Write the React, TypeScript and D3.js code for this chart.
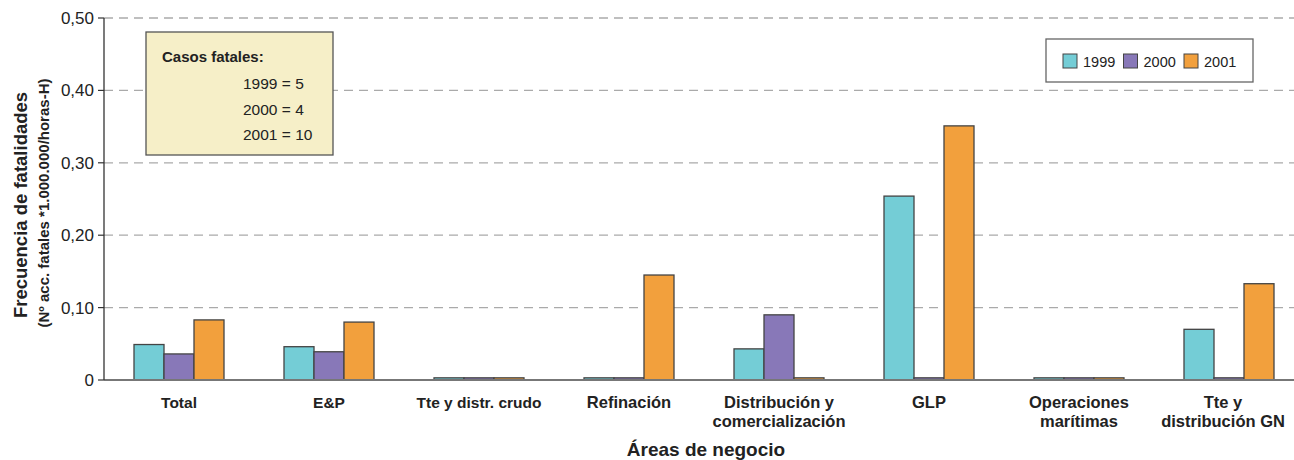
import * as d3 from 'd3';

const categories = [
  ['Total'],
  ['E&P'],
  ['Tte y distr. crudo'],
  ['Refinación'],
  ['Distribución y', 'comercialización'],
  ['GLP'],
  ['Operaciones', 'marítimas'],
  ['Tte y', 'distribución GN'],
];
const years = ['1999', '2000', '2001'];
const values1999 = [0.049, 0.046, 0.003, 0.003, 0.043, 0.254, 0.003, 0.07];
const values2000 = [0.036, 0.039, 0.003, 0.003, 0.09, 0.003, 0.003, 0.003];
const values2001 = [0.083, 0.08, 0.003, 0.145, 0.003, 0.351, 0.003, 0.133];
const yTicks = [0, 0.1, 0.2, 0.3, 0.4, 0.5];
const fatalCases = ['1999 = 5', '2000 = 4', '2001 = 10'];

const colors = ['#74cdd6', '#8878b8', '#f2a03d'];
const series = [values1999, values2000, values2001];

const W = 1294;
const H = 460;
const left = 104;
const right = 1294;
const top = 18;
const bottom = 380;

const sans = '"Liberation Sans", Arial, sans-serif';
const narrow = '"Liberation Sans Narrow", "Liberation Sans", Arial, sans-serif';

export default function App() {
  // the groups run a little past the visible right edge in the original
  const x = d3.scaleBand<number>()
    .domain(d3.range(categories.length))
    .range([left, right + 10])
    .paddingInner(0.4)
    .paddingOuter(0.2);
  const x1 = d3.scaleBand<number>()
    .domain(d3.range(years.length))
    .range([0, x.bandwidth()]);
  const y = d3.scaleLinear().domain([0, 0.5]).range([bottom, top]);

  const fmt = (d: number) => (d === 0 ? '0' : d3.format('.2f')(d).replace('.', ','));

  return (
    <svg width={W} height={H} style={{ position: 'absolute', left: 0, top: 0, background: '#fff' }}>
      {/* grid */}
      {yTicks.filter(t => t > 0).map(t => (
        <line key={t} x1={left} x2={right} y1={y(t)} y2={y(t)}
          stroke="#aaa" strokeWidth={1.3} strokeDasharray="9 6" />
      ))}
      {/* y ticks */}
      {yTicks.map(t => (
        <g key={'t' + t}>
          <line x1={left - 6} x2={left} y1={y(t)} y2={y(t)} stroke="#333" strokeWidth={1.2} />
          <text x={left - 10} y={y(t) + 6} textAnchor="end" fontFamily={sans} fontSize={17} fill="#222">
            {fmt(t)}
          </text>
        </g>
      ))}
      {/* bars */}
      {categories.map((_, i) => (
        <g key={'g' + i} transform={`translate(${x(i)},0)`}>
          {series.map((s, j) => (
            <rect key={j} x={x1(j)} y={y(s[i])} width={x1.bandwidth()} height={y(0) - y(s[i])}
              fill={colors[j]} stroke="#444" strokeWidth={1.3} />
          ))}
        </g>
      ))}
      {/* axes lines */}
      <line x1={left} x2={right} y1={bottom} y2={bottom} stroke="#777" strokeWidth={2} />
      <line x1={left} x2={left} y1={top} y2={bottom} stroke="#333" strokeWidth={1.3} />
      {/* x labels */}
      {categories.map((lines, i) => (
        <text key={'l' + i} x={(x(i) as number) + x.bandwidth() / 2} y={408} textAnchor="middle"
          fontFamily={i >= 3 ? narrow : sans} fontWeight="bold"
          fontSize={i >= 3 ? 16.5 : 15.5} fill="#222">
          {lines.map((l, k) => (
            <tspan key={k} x={(x(i) as number) + x.bandwidth() / 2 - (i === 7 ? 6 : 0)} dy={k === 0 ? 0 : 19}>{l}</tspan>
          ))}
        </text>
      ))}
      <text x={706} y={456} textAnchor="middle" fontFamily={narrow} fontWeight="bold" fontSize={19} fill="#222">
        Áreas de negocio
      </text>
      {/* y title */}
      <text transform="translate(27,205) rotate(-90)" textAnchor="middle" fontFamily={sans}
        fontWeight="bold" fontSize={18.5} fill="#222">Frecuencia de fatalidades</text>
      <text transform="translate(49,203) rotate(-90)" textAnchor="middle" fontFamily={sans}
        fontWeight="bold" fontSize={15} fill="#222">(Nº acc. fatales *1.000.000/horas-H)</text>
      {/* note box */}
      <rect x={146} y={32} width={187} height={123} fill="#f6efc8" stroke="#555" strokeWidth={1.3} />
      <text x={162} y={62} fontFamily={sans} fontWeight="bold" fontSize={15} fill="#222">Casos fatales:</text>
      {fatalCases.map((c, k) => (
        <text key={c} x={243} y={89 + k * 25.5} fontFamily={sans} fontSize={15.5} fill="#222">{c}</text>
      ))}
      {/* legend */}
      <rect x={1046} y={39} width={207} height={43} fill="#fff" stroke="#666" strokeWidth={1.3} />
      {years.map((yr, j) => (
        <g key={yr} transform={`translate(${1063 + j * 60.5},54)`}>
          <rect width={14} height={14} fill={colors[j]} stroke="#444" strokeWidth={1} />
          <text x={20} y={13} fontFamily={sans} fontSize={14.5} fill="#222">{yr}</text>
        </g>
      ))}
    </svg>
  );
}
